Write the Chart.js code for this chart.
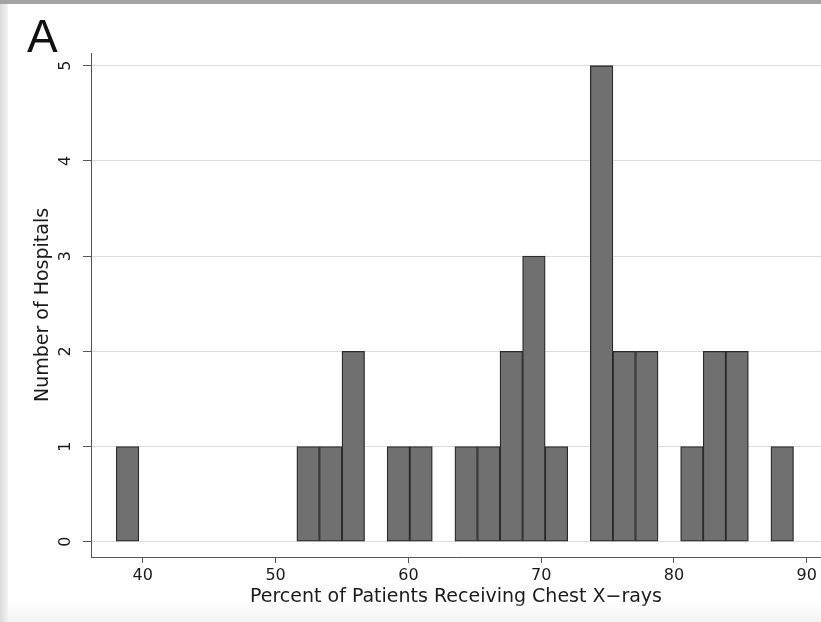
<!DOCTYPE html>
<html>
<head>
<meta charset="utf-8">
<script src="https://cdn.jsdelivr.net/npm/chart.js@4.4.1/dist/chart.umd.min.js"></script>
<style>
    body { margin: 0; background: #fff; overflow: hidden; }
    #marco { position: relative; width: 821px; height: 622px; }
    #bandaSup { position: absolute; top: 0; left: 0; width: 821px; height: 4px; background: #a3a3a3; }
    #bandaIzq { position: absolute; top: 4px; left: 0; width: 8px; height: 618px;
                background: linear-gradient(to right, #dadada, #f3f3f3); }
    #bandaInf { position: absolute; bottom: 0; left: 8px; width: 813px; height: 22px;
                background: linear-gradient(to bottom, rgba(246,246,246,0), #f4f4f4); }
</style>
</head>
<body>
<div id="marco">
    <canvas id="grafica" width="821" height="622"></canvas>
    <div id="bandaSup"></div>
    <div id="bandaIzq"></div>
    <div id="bandaInf"></div>
</div>
<script>
// centro de cada intervalo del histograma (ancho 1.7)
const binCenters = [38.85, 40.55, 42.25, 43.95, 45.65, 47.35, 49.05, 50.75, 52.45, 54.15,
                    55.85, 57.55, 59.25, 60.95, 62.65, 64.35, 66.05, 67.75, 69.45, 71.15,
                    72.85, 74.55, 76.25, 77.95, 79.65, 81.35, 83.05, 84.75, 86.45, 88.15];
const hospitalCounts = [1, 0, 0, 0, 0, 0, 0, 0, 1, 1,
                        2, 0, 1, 1, 0, 1, 1, 2, 3, 1,
                        0, 5, 2, 2, 0, 1, 2, 2, 0, 1];
const xTickValues = [40, 50, 60, 70, 80, 90];
const yTickValues = [0, 1, 2, 3, 4, 5];

const axisColor = '#555555';
const textColor = '#1a1a1a';

// letra "A" del panel
const panelLetter = {
    id: 'panelLetter',
    afterDraw(chart) {
        const c = chart.ctx;
        c.save();
        c.font = '46px "Liberation Sans"';
        c.fillStyle = '#111';
        c.textBaseline = 'alphabetic';
        c.fillText('A', 27, 52);
        c.restore();
    }
};

const ctx = document.getElementById('grafica').getContext('2d');

new Chart(ctx, {
    type: 'bar',
    data: {
        datasets: [{
            data: binCenters.map((x, i) => ({ x: x, y: hospitalCounts[i] })),
            backgroundColor: '#707070',
            borderColor: '#2a2a2a',
            borderWidth: 1.3,
            borderSkipped: false,
            barPercentage: 1,
            categoryPercentage: 1
        }]
    },
    options: {
        responsive: false,
        animation: false,
        layout: { padding: { top: 53, left: 0, right: 0, bottom: 0 } },
        plugins: {
            legend: { display: false },
            tooltip: { enabled: false }
        },
        scales: {
            x: {
                type: 'linear',
                min: 36.1,
                max: 91.07,
                offset: false,
                afterFit: s => { s.height = 65; },
                afterBuildTicks: s => { s.ticks = xTickValues.map(v => ({ value: v })); },
                border: { color: axisColor, width: 1 },
                grid: { offset: false, drawOnChartArea: false, drawTicks: true, tickLength: 6, tickColor: axisColor },
                ticks: {
                    maxRotation: 0,
                    padding: 3,
                    color: textColor,
                    font: { family: 'DejaVu Sans', size: 16 }
                },
                title: {
                    display: true,
                    text: 'Percent of Patients Receiving Chest X\u2212rays',
                    color: textColor,
                    font: { family: 'DejaVu Sans', size: 19 },
                    padding: { top: 0, bottom: 14 }
                }
            },
            y: {
                type: 'linear',
                min: -0.16,
                max: 5.133,
                afterFit: s => { s.width = 91; },
                afterBuildTicks: s => { s.ticks = yTickValues.map(v => ({ value: v })); },
                border: { color: axisColor, width: 1 },
                grid: { color: '#dcdcdc', lineWidth: 1, tickLength: 8, tickColor: axisColor },
                ticks: {
                    minRotation: 90,
                    maxRotation: 90,
                    crossAlign: 'center',
                    padding: 12,
                    color: textColor,
                    font: { family: 'DejaVu Sans', size: 16 }
                },
                title: {
                    display: true,
                    text: 'Number of Hospitals',
                    color: textColor,
                    font: { family: 'DejaVu Sans', size: 19 },
                    padding: { top: 32, bottom: 0 }
                }
            }
        }
    },
    plugins: [panelLetter]
});
</script>
</body>
</html>
